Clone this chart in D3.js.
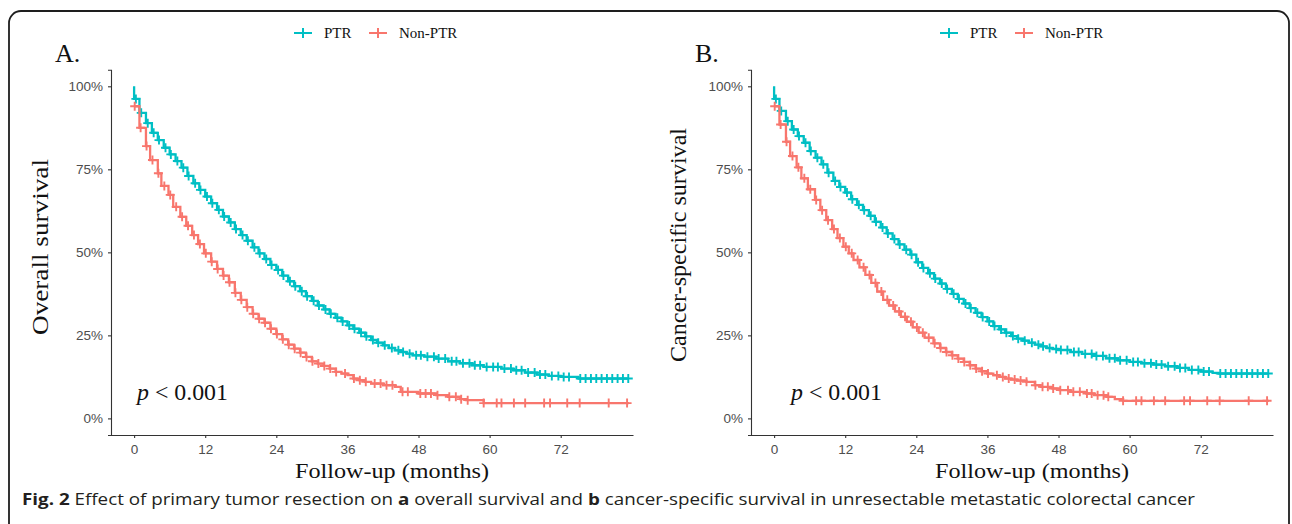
<!DOCTYPE html>
<html>
<head>
<meta charset="utf-8">
<script src="https://cdn.jsdelivr.net/npm/d3@7"></script>
<style>
  body { margin: 0; background: #fff; }
  svg { display: block; }
  .tick text { font-family: 'Liberation Sans', Arial, sans-serif; font-size: 13.5px; fill: #4d4d4d; }
  .tick line, .domain { stroke: #333; stroke-width: 1.1; }
  .serif { font-family: 'Liberation Serif', 'Times New Roman', serif; fill: #111; }
</style>
</head>
<body>
<svg id="fig" width="1292" height="524"></svg>
<script>
// x ticks (months) and y ticks (survival)
const monthTicks = [0, 12, 24, 36, 48, 60, 72]
const survivalTicks = [0, 0.25, 0.5, 0.75, 1]
const groups = ['PTR', 'Non-PTR']

// [month, survival] step points
const ptrOverall = [[0, 1], [0, 0.962], [0.9, 0.92], [2, 0.889], [3, 0.86], [4, 0.838], [5, 0.815], [6, 0.795],
  [7, 0.775], [8, 0.755], [9, 0.73], [10, 0.708], [11, 0.688], [12, 0.668], [13, 0.648], [14, 0.628],
  [15, 0.608], [16, 0.59], [17, 0.57], [18, 0.552], [19, 0.535], [20, 0.515], [21, 0.497], [22, 0.48],
  [23, 0.462], [24, 0.447], [25, 0.43], [26, 0.413], [27, 0.398], [28, 0.383], [29, 0.368], [30, 0.354],
  [31, 0.34], [32, 0.328], [33, 0.315], [34, 0.303], [35, 0.292], [36, 0.28], [37, 0.27], [38, 0.258],
  [39, 0.247], [40, 0.236], [41, 0.228], [42, 0.22], [43, 0.212], [44, 0.205], [45, 0.2], [46, 0.195],
  [47, 0.19], [49, 0.186], [51, 0.18], [53, 0.172], [55, 0.166], [57, 0.16], [59, 0.155], [62, 0.15],
  [64, 0.145], [66, 0.138], [68, 0.132], [70, 0.128], [72, 0.125], [75, 0.12], [83.5, 0.12]]

const nonPtrOverall = [[0, 0.94], [0.9, 0.875], [2, 0.82], [2.7, 0.778], [4, 0.738], [4.6, 0.7], [5.8, 0.673],
  [6.6, 0.637], [7.8, 0.607], [8.8, 0.58], [9.8, 0.552], [10.8, 0.525], [11.8, 0.497], [13, 0.472],
  [14, 0.45], [15, 0.43], [16, 0.41], [17, 0.378], [18, 0.357], [19, 0.335], [20, 0.315], [21, 0.3],
  [22, 0.288], [23, 0.27], [24, 0.254], [25, 0.238], [26, 0.222], [27, 0.21], [28, 0.198], [29, 0.185],
  [30, 0.172], [31, 0.165], [32, 0.158], [33, 0.15], [34, 0.14], [35, 0.135], [36, 0.13], [37, 0.12],
  [38, 0.115], [39, 0.11], [40, 0.105], [42, 0.1], [44, 0.095], [45, 0.08], [48, 0.075], [51, 0.07],
  [53, 0.065], [55, 0.058], [56, 0.055], [59, 0.046], [83.5, 0.046]]

const ptrCancer = [[0, 1], [0, 0.962], [0.9, 0.926], [2, 0.895], [3, 0.87], [4, 0.85], [5, 0.83], [6, 0.805],
  [7, 0.785], [8, 0.765], [9, 0.74], [10, 0.715], [11, 0.697], [12, 0.68], [13, 0.66], [14, 0.643],
  [15, 0.627], [16, 0.61], [17, 0.592], [18, 0.575], [19, 0.557], [20, 0.54], [21, 0.524], [22, 0.508],
  [23, 0.493], [24, 0.47], [25, 0.453], [26, 0.437], [27, 0.421], [28, 0.406], [29, 0.39], [30, 0.375],
  [31, 0.36], [32, 0.346], [33, 0.332], [34, 0.318], [35, 0.305], [36, 0.292], [37, 0.278], [38, 0.268],
  [39, 0.258], [40, 0.248], [41, 0.24], [42, 0.234], [43, 0.228], [44, 0.222], [45, 0.217], [46, 0.212],
  [47, 0.209], [48, 0.206], [50, 0.2], [52, 0.194], [54, 0.188], [56, 0.181], [58, 0.175], [60, 0.17],
  [62, 0.166], [64, 0.162], [66, 0.157], [68, 0.152], [70, 0.146], [72, 0.141], [74, 0.137], [75, 0.135],
  [83.5, 0.135]]

const nonPtrCancer = [[0, 0.94], [0.9, 0.885], [2, 0.833], [2.7, 0.79], [3.8, 0.756], [4.6, 0.723], [5.7, 0.69],
  [6.9, 0.658], [7.8, 0.627], [8.8, 0.597], [9.8, 0.57], [10.7, 0.543], [11.7, 0.517], [12.6, 0.497],
  [13.4, 0.477], [14.4, 0.455], [15.4, 0.432], [16.4, 0.408], [17.4, 0.382], [18.4, 0.357], [19.4, 0.34],
  [20.4, 0.322], [21.4, 0.306], [22.4, 0.291], [23.4, 0.274], [24.4, 0.258], [25.4, 0.243], [26.9, 0.226],
  [28, 0.212], [29, 0.2], [30, 0.19], [31, 0.18], [32, 0.17], [33, 0.16], [34, 0.15], [35, 0.142],
  [36, 0.135], [37, 0.13], [38, 0.125], [39, 0.12], [40, 0.117], [41, 0.114], [42.6, 0.11], [44, 0.1],
  [45, 0.095], [47, 0.09], [48.2, 0.085], [50, 0.08], [52.7, 0.075], [54, 0.07], [56.1, 0.065],
  [57.5, 0.058], [58.9, 0.053], [83.5, 0.053]]

// censoring times (months)
const ptrCensorOverall = [0.3, 1.2, 2.3, 3.3, 4.2, 5.3, 6.2, 7.3, 8.3, 9.2, 10.3, 11.2, 12.3, 13.2, 14.3,
  15.2, 16.3, 17.2, 18.3, 19.2, 20.3, 21.2, 22.3, 23.2, 24.3, 25.2, 26.3, 27.2, 28.3, 29.2, 30.3, 31.2,
  32.3, 33.2, 34.3, 35.2, 36.3, 37.2, 38.3, 39.2, 40.3, 41.2, 42.3, 43.5, 44.6, 45.4, 46.5, 47.6, 48.4,
  49.5, 50.6, 51.4, 52.5, 53.6, 54.4, 55.5, 56.6, 57.5, 58.4, 59.5, 60.6, 61.4, 62.5, 63.6, 64.5, 65.4,
  66.5, 67.6, 68.5, 69.4, 70.5, 71.6, 72.5, 73.4, 75.3, 76.2, 77.1, 78, 78.9, 79.8, 80.7, 81.6, 82.5, 83.4]
const nonPtrCensorOverall = [0.1, 1.1, 2.1, 3.1, 4.1, 5.1, 6.1, 7.1, 8.1, 9.1, 10.1, 11.1, 12.1, 13.1, 14.1,
  15.1, 16.1, 17.1, 18.1, 19.1, 20.1, 21.1, 22.1, 23.1, 24.1, 25.1, 26.1, 27.1, 28.1, 29.1, 30.1, 31.1,
  32.1, 33.1, 34.1, 35.6, 37.1, 38.1, 39.1, 40.6, 41.6, 42.6, 43.6, 45.3, 46.2, 48.3, 49.2, 50.1, 51.2,
  53.2, 54.3, 55.2, 56.3, 59, 61.2, 62, 64.1, 66, 69.2, 70.2, 73.1, 75.2, 80.1, 83.2]
const ptrCensorCancer = [0.3, 1.2, 2.3, 3.3, 4.2, 5.3, 6.2, 7.3, 8.3, 9.2, 10.3, 11.2, 12.3, 13.2, 14.3,
  15.2, 16.3, 17.2, 18.3, 19.2, 20.3, 21.2, 22.3, 23.2, 24.3, 25.2, 26.3, 27.2, 28.3, 29.2, 30.3, 31.2,
  32.3, 33.2, 34.3, 35.2, 36.3, 37.2, 38.3, 39.2, 40.3, 41.2, 42.3, 43.5, 44.6, 45.4, 46.5, 47.6, 48.4,
  49.5, 50.6, 51.4, 52.5, 53.6, 54.4, 55.5, 56.6, 57.5, 58.4, 59.5, 60.6, 61.4, 62.5, 63.6, 64.5, 65.4,
  66.5, 67.6, 68.5, 69.4, 70.5, 71.6, 72.5, 73.4, 75.3, 76.2, 77.1, 78, 78.9, 79.8, 80.7, 81.6, 82.5, 83.4]
const nonPtrCensorCancer = [0.1, 1.1, 2.1, 3.1, 4.1, 5.1, 6.1, 7.1, 8.1, 9.1, 10.1, 11.1, 12.1, 13.1, 14.1,
  15.1, 16.1, 17.1, 18.1, 19.1, 20.1, 21.1, 22.1, 23.1, 24.1, 25.1, 26.1, 27.1, 28.1, 29.1, 30.1, 31.1,
  32.1, 33.1, 34.1, 35.1, 36.1, 37.6, 38.6, 39.6, 40.6, 41.6, 42.6, 44.1, 45.3, 46.2, 47.1, 48.3, 49.6,
  50.5, 51.6, 52.8, 53.6, 54.6, 55.6, 56.4, 58.9, 61.1, 62, 64.1, 66, 69.2, 70.2, 73.1, 75.2, 80.1, 83.2]

const colors = { 'PTR': '#00BFC4', 'Non-PTR': '#F8766D' }

const svg = d3.select('#fig')

/**
 * Draws the rounded frame and the caption under both panels.
 */
function drawFrame () {
  svg.append('rect').attr('width', 1292).attr('height', 524).attr('fill', '#fff')
  svg.append('path')
    .attr('d', 'M9,560 V23 A12,12 0 0 1 21,11 H1277 A12,12 0 0 1 1289,23 V560')
    .attr('fill', 'none')
    .attr('stroke', '#1e1e1e')
    .attr('stroke-width', 1.8)

  const cap = svg.append('text')
    .attr('x', 22)
    .attr('y', 505)
    .attr('font-family', "'Open Sans', 'Noto Sans', sans-serif")
    .attr('font-size', 16.5)
    .attr('fill', '#231f20')
    .attr('textLength', 1173)
    .attr('lengthAdjust', 'spacingAndGlyphs')
  cap.append('tspan').attr('font-weight', 'bold').text('Fig. 2')
  cap.append('tspan').text(' Effect of primary tumor resection on ')
  cap.append('tspan').attr('font-weight', 'bold').text('a')
  cap.append('tspan').text(' overall survival and ')
  cap.append('tspan').attr('font-weight', 'bold').text('b')
  cap.append('tspan').text(' cancer-specific survival in unresectable metastatic colorectal cancer')
}

/**
 * Returns the survival of a step curve at a given month.
 */
function survivalAt (curve, t) {
  const i = d3.bisector(function (d) { return d[0] }).right(curve, t) - 1
  return curve[Math.max(0, i)][1]
}

/**
 * Draws a "+" censor mark.
 */
function plus (g, cx, cy, size, color, width) {
  g.append('path')
    .attr('d', `M${cx - size},${cy}H${cx + size}M${cx},${cy - size}V${cy + size}`)
    .attr('stroke', color)
    .attr('stroke-width', width)
    .attr('fill', 'none')
}

/**
 * Draws one Kaplan-Meier panel.
 */
function drawPanel (p) {
  const g = svg.append('g').attr('transform', `translate(${p.ox},0)`)

  const x = d3.scaleLinear().domain([-3.9, 84.2]).range([111, 633])
  const y = d3.scaleLinear().domain([-0.05, 1.05]).range([435, 69.7])

  g.append('g')
    .attr('transform', 'translate(111,0)')
    .call(d3.axisLeft(y).tickValues(survivalTicks).tickFormat(d3.format('.0%')).tickSize(3).tickPadding(5))

  g.append('g')
    .attr('transform', 'translate(0,435)')
    .call(d3.axisBottom(x).tickValues(monthTicks).tickSize(3).tickPadding(6).tickSizeOuter(0))

  const line = d3.line()
    .curve(d3.curveStepAfter)
    .x(function (d) { return x(d[0]) })
    .y(function (d) { return y(d[1]) })

  p.series.forEach(function (s) {
    g.append('path')
      .datum(s.curve)
      .attr('d', line)
      .attr('fill', 'none')
      .attr('stroke', colors[s.name])
      .attr('stroke-width', 2.3)

    s.censor.forEach(function (t) {
      plus(g, x(t), y(survivalAt(s.curve, t)), 4.5, colors[s.name], 1.9)
    })
  })

  // legend on top
  groups.forEach(function (name, i) {
    const lx = p.legendX[i]
    g.append('line')
      .attr('x1', lx - 9).attr('x2', lx + 9)
      .attr('y1', 33).attr('y2', 33)
      .attr('stroke', colors[name]).attr('stroke-width', 2)
    plus(g, lx, 33, 5, colors[name], 2)
    g.append('text')
      .attr('class', 'serif')
      .attr('x', lx + 21)
      .attr('y', 38)
      .attr('font-size', 15)
      .text(name)
  })

  g.append('text')
    .attr('class', 'serif')
    .attr('x', 55)
    .attr('y', 62)
    .attr('font-size', 26)
    .text(p.letter)

  g.append('text')
    .attr('class', 'serif')
    .attr('x', 295)
    .attr('y', 478)
    .attr('font-size', 22)
    .attr('textLength', 194)
    .attr('lengthAdjust', 'spacingAndGlyphs')
    .text('Follow-up (months)')

  g.append('text')
    .attr('class', 'serif')
    .attr('transform', `translate(${p.yTitleX},${p.yTitleY}) rotate(-90)`)
    .attr('x', -p.yTitleLen / 2)
    .attr('font-size', 24)
    .attr('textLength', p.yTitleLen)
    .attr('lengthAdjust', 'spacingAndGlyphs')
    .text(p.yTitle)

  const pv = g.append('text')
    .attr('class', 'serif')
    .attr('x', p.pX)
    .attr('y', 400)
    .attr('font-size', 23)
    .attr('textLength', 91)
    .attr('lengthAdjust', 'spacingAndGlyphs')
  pv.append('tspan').attr('font-style', 'italic').text('p')
  pv.append('tspan').text(' < 0.001')
}

drawFrame()

drawPanel({
  ox: 0,
  letter: 'A.',
  yTitle: 'Overall survival',
  yTitleX: 48,
  yTitleY: 247,
  yTitleLen: 176,
  pX: 137,
  legendX: [303, 378],
  series: [
    { name: 'PTR', curve: ptrOverall, censor: ptrCensorOverall },
    { name: 'Non-PTR', curve: nonPtrOverall, censor: nonPtrCensorOverall }
  ]
})

drawPanel({
  ox: 640,
  letter: 'B.',
  yTitle: 'Cancer-specific survival',
  yTitleX: 46,
  yTitleY: 245,
  yTitleLen: 234,
  pX: 151,
  legendX: [309, 384],
  series: [
    { name: 'PTR', curve: ptrCancer, censor: ptrCensorCancer },
    { name: 'Non-PTR', curve: nonPtrCancer, censor: nonPtrCensorCancer }
  ]
})
</script>
</body>
</html>
